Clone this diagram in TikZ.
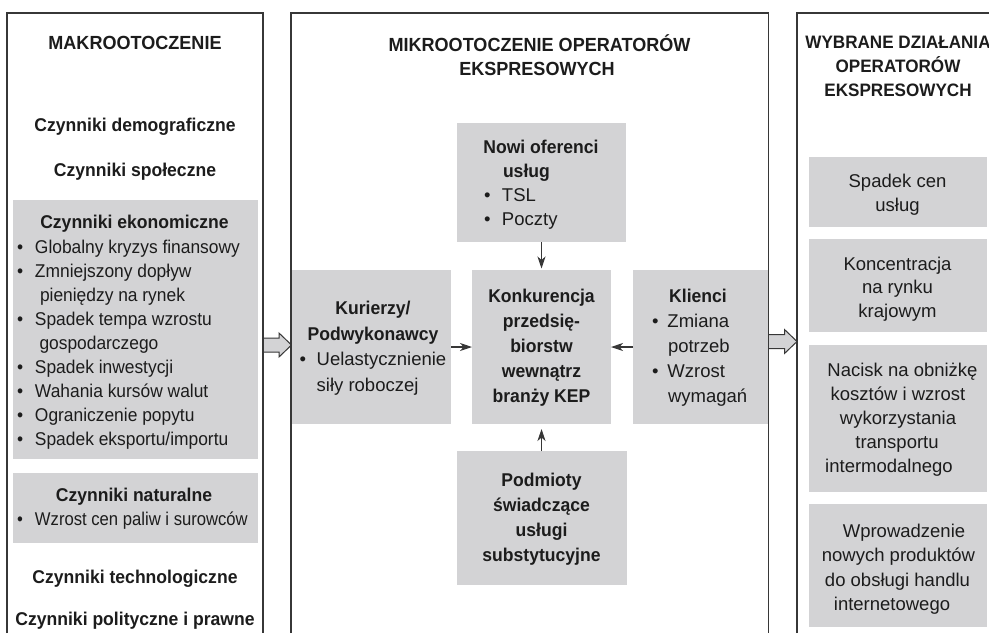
\documentclass[tikz,border=0pt]{standalone}
\usepackage{fontspec}
\setmainfont{Liberation Sans}[BoldFeatures={FakeStretch=0.95}]
\newfontfamily\leftf{Liberation Sans}[FakeStretch=0.94]
\newfontfamily\condf{Liberation Sans}[FakeStretch=0.9]
\usetikzlibrary{arrows.meta}
\definecolor{boxgray}{RGB}{211,211,213}
\definecolor{linec}{RGB}{55,55,55}
\definecolor{txt}{RGB}{28,28,28}
\newcommand\bul[1][18pt]{\makebox[#1][l]{\textbullet}}
\tikzset{
  panel/.style={draw=linec, line width=1.1pt},
  gbox/.style={fill=boxgray, draw=none, inner sep=0pt, outer sep=0pt},
  t/.style={inner sep=0pt, outer sep=0pt, text=txt, font=\fontsize{18.5}{22}\selectfont, anchor=base},
  tl/.style={t, anchor=base west},
  tll/.style={tl, font=\fontsize{18.5}{22}\leftf},
  tb/.style={t, font=\fontsize{18.5}{22}\selectfont\bfseries},
  tbl/.style={tb, anchor=base west},
  ttl/.style={t, font=\fontsize{19}{22}\selectfont\bfseries},
  ttr/.style={t, font=\fontsize{18}{22}\selectfont\bfseries},
  conn/.style={draw=linec, line width=1.1pt, -{Stealth[length=12pt,width=8pt,inset=3.5pt]}},
  hollow/.style={draw=linec, line width=1pt, fill=boxgray, line join=miter},
}
\begin{document}
\begin{tikzpicture}[x=1pt,y=-1pt]
\useasboundingbox (0,0) rectangle (989,633);

% ---------- hollow block arrows between panels
\coordinate (hA) at (263,345);
\coordinate (hB) at (768.5,341.5);
\draw[hollow] (hA) ++(0,-7) -- ++(16,0) -- ++(0,-5) -- ++(12.5,12) -- ++(-12.5,12) -- ++(0,-5) -- ++(-16,0);
\draw[hollow] (hB) ++(0,-7) -- ++(16,0) -- ++(0,-5) -- ++(12.5,12) -- ++(-12.5,12) -- ++(0,-5) -- ++(-16,0);

% ---------- left panel
\node[ttl] (makT) at (135,49) {MAKROOTOCZENIE};
\node[tb] (demo) at (135,131) {Czynniki demograficzne};
\node[tb] (spol) at (135,176) {Czynniki społeczne};
\node[gbox, minimum width=245pt, minimum height=259pt] (eko) at (135.5,329.5) {};
\node[tb] (ekoT) at (134.5,228) {Czynniki ekonomiczne};
\node[tll] (eko1) at (17,253) {\bul Globalny kryzys finansowy};
\node[tll] (eko2) at (17,277) {\bul Zmniejszony dopływ};
\node[tll] (eko3) at (40,301) {pieniędzy na rynek};
\node[tll] (eko4) at (17,325) {\bul Spadek tempa wzrostu};
\node[tll] (eko5) at (39.5,349) {gospodarczego};
\node[tll] (eko6) at (17,373) {\bul Spadek inwestycji};
\node[tll] (eko7) at (17,397) {\bul Wahania kursów walut};
\node[tll] (eko8) at (17,421) {\bul Ograniczenie popytu};
\node[tll] (eko9) at (17,445) {\bul Spadek eksportu/importu};
\node[gbox, minimum width=245pt, minimum height=70pt] (nat) at (135.5,508) {};
\node[tb] (natT) at (134,501) {Czynniki naturalne};
\node[tl, font=\fontsize{18.5}{22}\condf] (nat1) at (17,525) {\bul[18pt]Wzrost cen paliw i surowców};
\node[tb] (tech) at (135,583) {Czynniki technologiczne};
\node[tb] (pol) at (135,625) {Czynniki polityczne i prawne};

% ---------- middle panel
\node[ttl] (micT1) at (539.5,51.5) {MIKROOTOCZENIE OPERATORÓW};
\node[ttl] (micT2) at (537,75) {EKSPRESOWYCH};

\node[gbox, minimum width=169pt, minimum height=119pt] (nowi) at (541.5,182.5) {};
\node[tb] (nowi1) at (541,153) {Nowi oferenci};
\node[tbl] (nowi2) at (503,177) {usług};
\node[tl] (nowi3) at (484,201) {\bul TSL};
\node[tl] (nowi4) at (484,225) {\bul Poczty};

\node[gbox, minimum width=139pt, minimum height=154pt] (konk) at (541.5,347) {};
\node[tb] (konk1) at (541.5,302.5) {Konkurencja};
\node[tb] (konk2) at (541.5,327.5) {przedsię-};
\node[tb] (konk3) at (541.5,352.5) {biorstw};
\node[tb] (konk4) at (541.5,377.5) {wewnątrz};
\node[tb] (konk5) at (541.5,402.5) {branży KEP};

\node[gbox, minimum width=160pt, minimum height=154pt] (kur) at (371,347) {};
\node[tb] (kur1) at (373,314.5) {Kurierzy/};
\node[tb] (kur2) at (373,340) {Podwykonawcy};
\node[tl] (kur3) at (299.5,365.5) {\bul[17.2pt]Uelastycznienie};
\node[tl] (kur4) at (316.7,391) {siły roboczej};

\node[gbox, minimum width=135pt, minimum height=154pt] (kli) at (700.5,347) {};
\node[tb] (kli1) at (698,302.5) {Klienci};
\node[tl] (kli2) at (652,327.5) {\bul[15.5pt]Zmiana};
\node[tl] (kli3) at (668,352.5) {potrzeb};
\node[tl] (kli4) at (652,377.5) {\bul[15.5pt]Wzrost};
\node[tl] (kli5) at (668,402.5) {wymagań};

\node[gbox, minimum width=170pt, minimum height=134pt] (pod) at (541.5,518) {};
\node[tb] (pod1) at (541.5,486.5) {Podmioty};
\node[tb] (pod2) at (541.5,511.5) {świadczące};
\node[tb] (pod3) at (541.5,536.5) {usługi};
\node[tb] (pod4) at (541.5,561.5) {substytucyjne};

\draw[conn, shorten >=1.5pt] (nowi) -- (konk);
\draw[conn, shorten >=5pt] (pod) -- (konk);
\draw[conn] (kur) -- (konk);
\draw[conn] (kli) -- (konk);

% ---------- right panel
\node[ttr] (wybT1) at (898,48.5) {WYBRANE DZIAŁANIA};
\node[ttr] (wybT2) at (898,72) {OPERATORÓW};
\node[ttr] (wybT3) at (898,96.5) {EKSPRESOWYCH};

\node[gbox, minimum width=178pt, minimum height=70pt] (spad) at (898,192) {};
\node[t] (spad1) at (897.5,187.5) {Spadek cen};
\node[t] (spad2) at (897.5,211) {usług};

\node[gbox, minimum width=178pt, minimum height=93pt] (konc) at (898,285.5) {};
\node[t] (konc1) at (897.5,270) {Koncentracja};
\node[t] (konc2) at (897.5,293.5) {na rynku};
\node[t] (konc3) at (897.5,317) {krajowym};

\node[gbox, minimum width=178pt, minimum height=147pt] (nac) at (898,418.5) {};
\node[t] (nac1) at (902.5,376.5) {Nacisk na obniżkę};
\node[t] (nac2) at (898,400.5) {kosztów i wzrost};
\node[t] (nac3) at (898,424.5) {wykorzystania};
\node[t] (nac4) at (897,448.5) {transportu};
\node[t] (nac5) at (889,472.5) {intermodalnego};

\node[gbox, minimum width=178pt, minimum height=123pt] (wpr) at (898,565.5) {};
\node[t] (wpr1) at (904,537) {Wprowadzenie};
\node[t] (wpr2) at (898.5,561.5) {nowych produktów};
\node[t] (wpr3) at (897.5,586) {do obsługi handlu};
\node[t] (wpr4) at (892,610) {internetowego};

% ---------- panel frames (open at the bottom)
\draw[panel] (7,633) -- (7,13) -- (263,13) -- (263,633);
\draw[panel] (291,633) -- (291,13) -- (768.5,13) -- (768.5,633);
\draw[panel] (797,633) -- (797,13) -- (989,13);
\end{tikzpicture}
\end{document}
